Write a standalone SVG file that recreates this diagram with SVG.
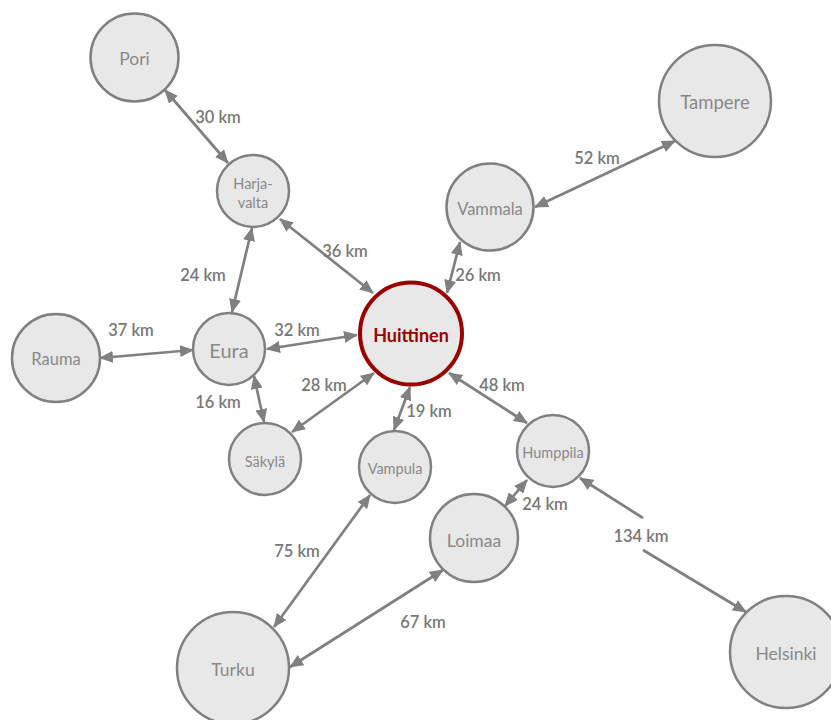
<svg xmlns="http://www.w3.org/2000/svg" width="831" height="720" viewBox="0 0 831 720">
<style>
.n circle{fill:#e8e8e8;stroke:#808080;stroke-width:2.5}
.n text{font-family:Lato,"Open Sans",sans-serif;fill:#888;text-anchor:middle;dominant-baseline:central}
.big text{font-size:17.5px}
.mid text{font-size:16.5px}
.sm text{font-size:14.5px}
#huittinen circle{stroke:#9b0000;stroke-width:4}
#huittinen text{fill:#9b0000;font-weight:bold;font-size:18px}
.e line,.e path{stroke:#808080;stroke-width:2.7;fill:none;marker-start:url(#ah);marker-end:url(#ah)}
.e path.h1{marker-end:none}
.e path.h2{marker-start:none}
.lbl{font-family:Lato,"Open Sans",sans-serif;font-size:16.5px;font-weight:600;fill:#777;text-anchor:middle;dominant-baseline:central}
</style>
<defs>
<marker id="ah" markerUnits="userSpaceOnUse" viewBox="0 0 14 12" markerWidth="14" markerHeight="12" refX="13" refY="6" orient="auto-start-reverse">
<path d="M0,0 L14,6 L0,12 z" fill="#808080"/>
</marker>
</defs>
<g id="edges" class="e">
<line x1="165" y1="90" x2="228" y2="163"/>
<line x1="280" y1="219" x2="373" y2="293"/>
<line x1="252" y1="228" x2="232" y2="312"/>
<line x1="100" y1="358" x2="193" y2="350"/>
<line x1="267" y1="349" x2="357" y2="335"/>
<line x1="254" y1="376" x2="264" y2="422"/>
<line x1="292" y1="432" x2="374" y2="373"/>
<line x1="410" y1="387" x2="394" y2="430"/>
<line x1="447" y1="293" x2="460" y2="242"/>
<line x1="535" y1="207" x2="675" y2="141"/>
<line x1="449" y1="373" x2="527" y2="423"/>
<line x1="527" y1="480" x2="505" y2="506"/>
<path class="h1" d="M580,478 L643,518"/>
<path class="h2" d="M643,550 L746,612"/>
<line x1="370" y1="495" x2="274" y2="627"/>
<line x1="443" y1="570" x2="290" y2="667"/>
</g>
<g id="labels">
<text class="lbl" x="218" y="117">30 km</text>
<text class="lbl" x="345" y="251">36 km</text>
<text class="lbl" x="203" y="275">24 km</text>
<text class="lbl" x="131" y="330">37 km</text>
<text class="lbl" x="297" y="330">32 km</text>
<text class="lbl" x="218" y="402">16 km</text>
<text class="lbl" x="324" y="385">28 km</text>
<text class="lbl" x="429" y="411">19 km</text>
<text class="lbl" x="478" y="275">26 km</text>
<text class="lbl" x="597" y="158">52 km</text>
<text class="lbl" x="502" y="385">48 km</text>
<text class="lbl" x="545" y="504">24 km</text>
<text class="lbl" x="641" y="536">134 km</text>
<text class="lbl" x="297" y="551">75 km</text>
<text class="lbl" x="423" y="622">67 km</text>
</g>
<g id="pori" class="n big"><circle cx="134.5" cy="57.5" r="44"/><text x="134.5" y="58">Pori</text></g>
<g id="tampere" class="n big"><circle cx="715" cy="101" r="56"/><text x="715" y="102" style="font-size:18.5px">Tampere</text></g>
<g id="harjavalta" class="n sm"><circle cx="253" cy="191" r="36"/><text x="253" y="183">Harja-</text><text x="253" y="202">valta</text></g>
<g id="vammala" class="n mid"><circle cx="490" cy="207" r="43.5"/><text x="490" y="209">Vammala</text></g>
<g id="huittinen" class="n"><circle cx="411" cy="333.5" r="51"/><text x="411" y="335">Huittinen</text></g>
<g id="eura" class="n"><circle cx="229" cy="349" r="36"/><text x="229" y="350" style="font-size:20px">Eura</text></g>
<g id="rauma" class="n mid"><circle cx="56" cy="358" r="44"/><text x="56" y="359">Rauma</text></g>
<g id="sakyla" class="n sm"><circle cx="265" cy="459" r="36"/><text x="265" y="461">Säkylä</text></g>
<g id="vampula" class="n sm"><circle cx="395" cy="467" r="36"/><text x="395" y="468">Vampula</text></g>
<g id="humppila" class="n sm"><circle cx="553" cy="451" r="36"/><text x="553" y="452">Humppila</text></g>
<g id="loimaa" class="n big"><circle cx="474" cy="538" r="44"/><text x="474" y="540">Loimaa</text></g>
<g id="turku" class="n big"><circle cx="233" cy="668" r="56"/><text x="233" y="669">Turku</text></g>
<g id="helsinki" class="n big"><circle cx="786" cy="652" r="56"/><text x="786" y="653">Helsinki</text></g>
</svg>
